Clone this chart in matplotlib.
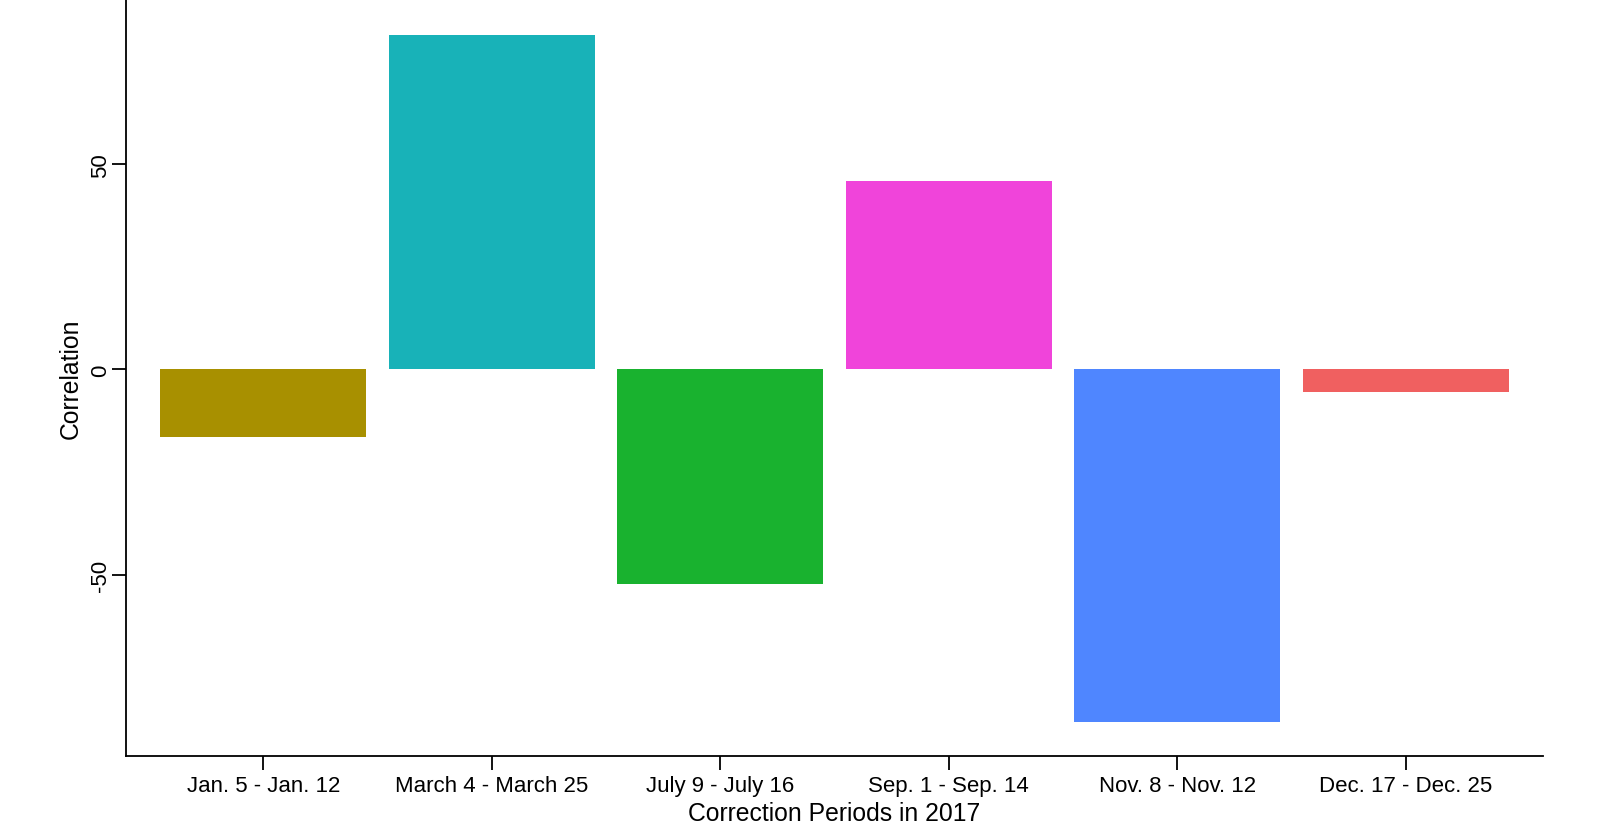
import matplotlib.pyplot as plt
import numpy as np

plt.rcParams['font.family'] = ['Liberation Sans', 'DejaVu Sans']

# Data
periods = ['Jan. 5 - Jan. 12', 'March 4 - March 25', 'July 9 - July 16',
           'Sep. 1 - Sep. 14', 'Nov. 8 - Nov. 12', 'Dec. 17 - Dec. 25']
correlation = [-16.5, 81.5, -52.4, 45.9, -86.0, -5.5]
colors = ['#A89000', '#18B2B8', '#19B22F', '#F044DA', '#4F86FF', '#F06060']

fig = plt.figure(figsize=(16, 8.29), dpi=100)
ax = fig.add_axes([0.0788, 0.0869, 0.8855, 0.9131])

x = np.arange(1, len(periods) + 1)
ax.bar(x, correlation, width=0.9, color=colors)

ax.set_xlim(0.4, len(periods) + 0.6)
ax.set_ylim(-94.2, 90.3)

ax.set_xticks(x)
ax.set_xticklabels(periods)
ax.set_yticks([-50, 0, 50])
ax.set_yticklabels(['-50', '0', '50'], rotation=90, va='center')

for s in ['top', 'right']:
    ax.spines[s].set_visible(False)
for s in ['left', 'bottom']:
    ax.spines[s].set_linewidth(1.3)
    ax.spines[s].set_color('black')

ax.tick_params(axis='both', length=10, width=1.3, labelsize=16, colors='black')
ax.tick_params(axis='x', pad=4)
ax.tick_params(axis='y', pad=1)

ax.set_xlabel('Correction Periods in 2017', fontsize=17.8, labelpad=3)
ax.set_ylabel('Correlation', fontsize=17.8, labelpad=5)

fig.savefig('out.png', dpi=100)
